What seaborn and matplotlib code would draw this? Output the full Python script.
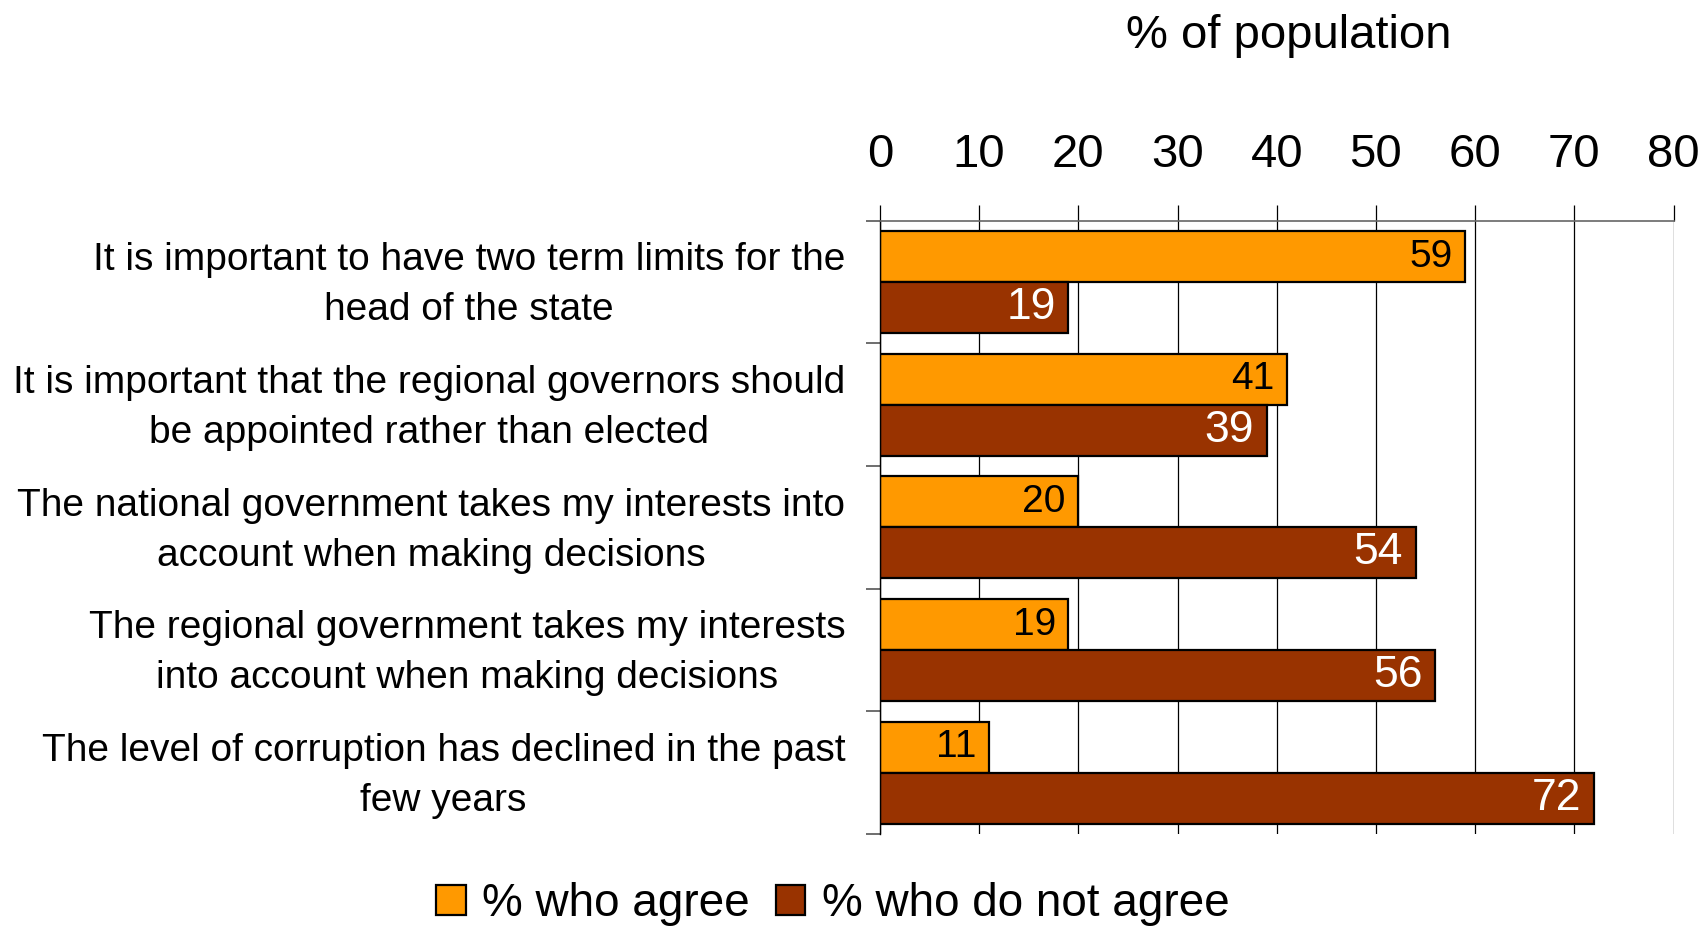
import matplotlib
matplotlib.use("Agg")
import matplotlib.pyplot as plt
import matplotlib.ticker as mticker
import matplotlib.transforms as mtransforms
import seaborn as sns
import pandas as pd

# Survey statements and shares of respondents
statements = [
    "It is important to have two term limits for the\nhead of the state",
    "It is important that the regional governors should\nbe appointed rather than elected",
    "The national government takes my interests into\naccount when making decisions",
    "The regional government takes my interests\ninto account when making decisions",
    "The level of corruption has declined in the past\nfew years",
]
agree = [59, 41, 20, 19, 11]
not_agree = [19, 39, 54, 56, 72]
series_names = ["% who agree", "% who do not agree"]
x_ticks = [0, 10, 20, 30, 40, 50, 60, 70, 80]
axis_title = "% of population"

colors = {series_names[0]: "#FF9900", series_names[1]: "#993300"}
label_colors = ["black", "white"]
label_sizes = [28, 32]

df = pd.DataFrame({
    "statement": statements * 2,
    "value": agree + not_agree,
    "series": [series_names[0]] * len(statements) + [series_names[1]] * len(statements),
})

sns.set_theme(style="white")
plt.rcParams["font.family"] = ["Liberation Sans", "DejaVu Sans"]
plt.rcParams["text.color"] = "black"
plt.rcParams["xtick.labelcolor"] = "black"
plt.rcParams["ytick.labelcolor"] = "black"

fig = plt.figure(figsize=(17.03, 9.26), dpi=100)
ax = fig.add_axes([0.5167, 0.0994, 0.466, 0.6623])

sns.barplot(
    data=df, y="statement", x="value", hue="series", order=statements,
    hue_order=series_names, palette=colors, orient="h", width=0.83,
    edgecolor="black", linewidth=1.6, saturation=1, ax=ax,
)

ax.set_xlim(x_ticks[0], x_ticks[-1])
ax.set_ylim(len(statements) - 0.5, -0.5)
ax.set_xlabel("")
ax.set_ylabel("")

# value axis on top with outward ticks and vertical gridlines
ax.xaxis.set_ticks_position("top")
ax.xaxis.set_label_position("top")
ax.set_xticks(x_ticks)
ax.tick_params(axis="x", which="major", direction="out", length=11.5, width=0.9,
               color="black", labelsize=34, labelcolor="black", pad=20,
               top=True, bottom=False)
ax.grid(axis="x", color="black", linewidth=0.9)
ax.grid(axis="y", visible=False)
ax.set_axisbelow(True)

# category axis: labels on major ticks, separators as minor ticks
ax.yaxis.set_minor_locator(mticker.FixedLocator([i - 0.5 for i in range(len(statements) + 1)]))
ax.tick_params(axis="y", which="major", length=0, labelsize=28, labelcolor="black", pad=25)
ax.tick_params(axis="y", which="minor", direction="out", length=10, width=1.2,
               color="#555555", left=True)
lift = mtransforms.ScaledTranslation(0, 5.5 / 72, fig.dpi_scale_trans)
for lab in ax.get_yticklabels():
    lab.set_multialignment("center")
    lab.set_linespacing(1.5)
    lab.set_transform(lab.get_transform() + lift)

for side in ["right", "bottom"]:
    ax.spines[side].set_visible(False)
ax.spines["top"].set_color("#666666")
ax.spines["top"].set_linewidth(1.2)
ax.spines["left"].set_color("black")
ax.spines["left"].set_linewidth(1.0)

# value labels inside the bar ends
for cont, col, fs in zip(ax.containers, label_colors, label_sizes):
    texts = ax.bar_label(cont, padding=-9, color=col, fontsize=fs)
    for t in texts:
        t.set_ha("right")

fig.text(0.757, 1 - 36 / 926, axis_title, ha="center", va="center", fontsize=34,
         color="black")

sns.move_legend(
    ax, "center", bbox_to_anchor=(0.489, 1 - 904 / 926), bbox_transform=fig.transFigure,
    ncol=2, frameon=False, title=None, fontsize=33, handlelength=0.65,
    handleheight=0.65, handletextpad=0.36, columnspacing=0.56, borderpad=0,
    labelcolor="black",
)

fig.savefig("out.png", dpi=100)
